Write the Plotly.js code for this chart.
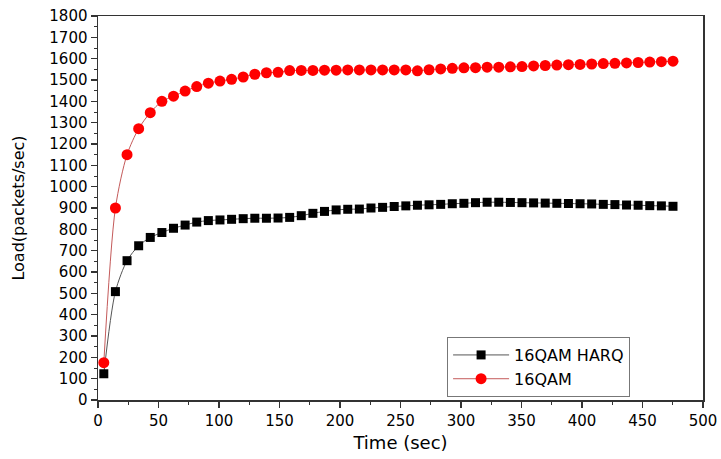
<!DOCTYPE html>
<html>
<head>
<meta charset="utf-8">
<script src="https://cdn.plot.ly/plotly-3.0.1.min.js"></script>
<style>
html,body{margin:0;padding:0;background:#fff;}
#chart{width:721px;height:459px;}
</style>
</head>
<body>
<div id="chart"></div>
<script>
const timeSec = [4.8, 14.4, 24, 33.6, 43.2, 52.8, 62.4, 72, 81.6, 91.2,
  100.8, 110.4, 120, 129.6, 139.2, 148.8, 158.4, 168, 177.6, 187.2,
  196.8, 206.4, 216, 225.6, 235.2, 244.8, 254.4, 264, 273.6, 283.2,
  292.8, 302.4, 312, 321.6, 331.2, 340.8, 350.4, 360, 369.6, 379.2,
  388.8, 398.4, 408, 417.6, 427.2, 436.8, 446.4, 456, 465.6, 475.2];

const harqLoad = [123, 508, 653, 723, 762, 785, 805, 820, 834, 841,
  844, 847, 850, 852, 852, 853, 856, 864, 875, 884,
  891, 894, 895, 900, 903, 907, 910, 913, 915, 917,
  920, 922, 925, 927, 927, 926, 925, 924, 923, 922,
  921, 920, 919, 917, 916, 914, 913, 911, 910, 908];

const qamLoad = [175, 900, 1150, 1272, 1347, 1400, 1424, 1448, 1469, 1485,
  1495, 1503, 1514, 1527, 1534, 1536, 1544, 1545, 1545, 1546,
  1546, 1547, 1547, 1547, 1547, 1547, 1547, 1543, 1548, 1552,
  1555, 1557, 1558, 1560, 1560, 1562, 1563, 1566, 1568, 1570,
  1572, 1573, 1575, 1577, 1578, 1580, 1582, 1584, 1586, 1588];

const seriesNames = ["16QAM HARQ", "16QAM"];

const font = "DejaVu Sans, Liberation Sans, Arial, sans-serif";

const traces = [
  {
    x: timeSec, y: harqLoad, name: seriesNames[0], type: "scatter", mode: "lines+markers",
    line: {color: "#555555", width: 1, shape: "spline", smoothing: 0.8},
    marker: {symbol: "square", size: 9, color: "#000000"}
  },
  {
    x: timeSec, y: qamLoad, name: seriesNames[1], type: "scatter", mode: "lines+markers",
    line: {color: "#c45a5a", width: 1, shape: "spline", smoothing: 0.8},
    marker: {symbol: "circle", size: 11, color: "#ff0000"}
  }
];

const layout = {
  width: 721, height: 459,
  margin: {l: 98, r: 18, t: 16, b: 59},
  paper_bgcolor: "#ffffff", plot_bgcolor: "#ffffff",
  font: {family: font, color: "#000000", size: 15},
  showlegend: true,
  legend: {
    x: 0.577, y: 0.164, xanchor: "left", yanchor: "top",
    bgcolor: "#ffffff", bordercolor: "#777777", borderwidth: 1,
    font: {family: font, size: 16, color: "#000000"},
    tracegroupgap: 0, itemwidth: 56
  },
  xaxis: {
    range: [0, 500], dtick: 50, tick0: 0,
    showline: true, mirror: true, linecolor: "#333333", linewidth: 1.5,
    ticks: "outside", ticklen: 6, tickwidth: 1.5, tickcolor: "#333333",
    minor: {ticks: "outside", ticklen: 3, dtick: 25, tickwidth: 1, tickcolor: "#333333", showgrid: false},
    showgrid: false, zeroline: false,
    tickfont: {family: font, size: 15},
    title: {text: "Time (sec)", font: {family: font, size: 18}, standoff: 8}
  },
  yaxis: {
    range: [0, 1800], dtick: 100, tick0: 0,
    showline: true, mirror: true, linecolor: "#333333", linewidth: 1.5,
    ticks: "outside", ticklen: 6, tickwidth: 1.5, tickcolor: "#333333",
    minor: {ticks: "outside", ticklen: 3, dtick: 50, tickwidth: 1, tickcolor: "#333333", showgrid: false},
    showgrid: false, zeroline: false,
    tickfont: {family: font, size: 15},
    title: {text: "Load(packets/sec)", font: {family: font, size: 16}, standoff: 20}
  }
};

Plotly.newPlot("chart", traces, layout, {displayModeBar: false, staticPlot: true});
</script>
</body>
</html>
